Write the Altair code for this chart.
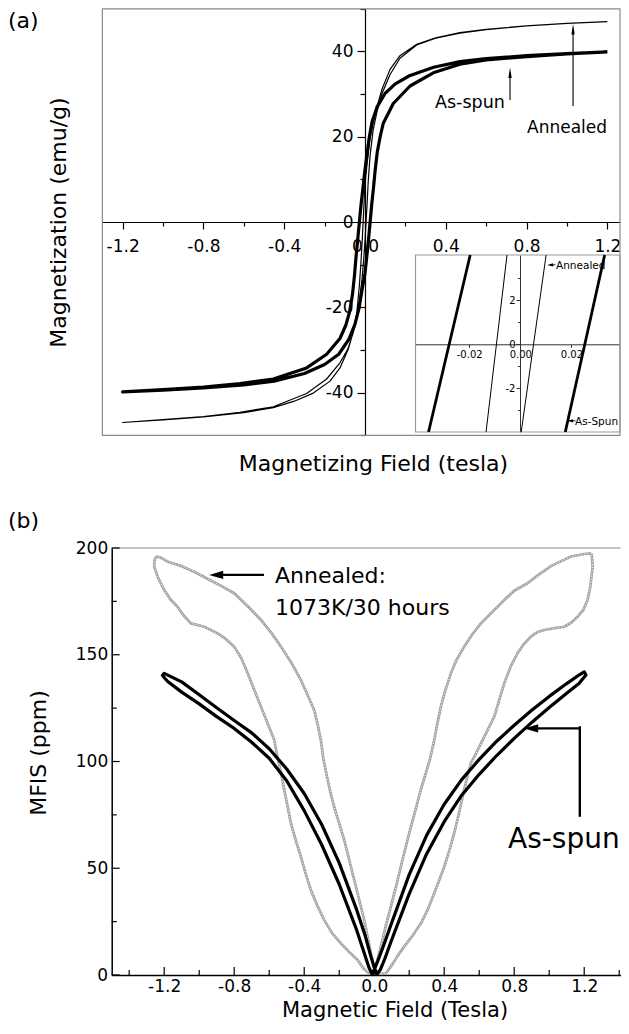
import altair as alt
import pandas as pd

FONT = "DejaVu Sans"

# ======================= (a) magnetization loops (field in tesla, M in emu/g) =======================
as_desc_H = [1.2, 1.0, 0.8, 0.6, 0.47, 0.34, 0.22, 0.15, 0.1, 0.06, 0.035, 0.02, 0.01, 0.0, -0.01,
             -0.0198, -0.0278, -0.0359, -0.045, -0.052, -0.062, -0.076, -0.095, -0.124, -0.19,
             -0.289, -0.454, -0.619, -0.8, -1.0, -1.2]
as_desc_M = [39.9, 39.5, 39.0, 38.3, 37.6, 36.3, 34.3, 32.4, 30.2, 27.0, 23.5, 19.5, 16.0, 12.3, 8.0,
             4.0, 0.0, -4.0, -8.5, -12.5, -17.0, -21.0, -24.2, -27.3, -31.0,
             -34.2, -36.8, -37.9, -38.7, -39.3, -39.8]
as_asc_H = [-1.2, -1.0, -0.8, -0.6, -0.45, -0.3, -0.2, -0.13, -0.08, -0.05, -0.03, -0.015, 0.0, 0.009,
            0.0176, 0.0253, 0.033, 0.042, 0.05, 0.061, 0.075, 0.09, 0.14, 0.223, 0.338, 0.47, 0.6,
            0.8, 1.0, 1.2]
as_asc_M = [-39.8, -39.4, -38.9, -38.2, -37.3, -35.5, -33.4, -31.0, -27.5, -24.0, -20.3, -16.0, -12.0,
            -8.0, -4.0, 0.0, 4.0, 8.0, 12.0, 16.5, 20.0, 23.1, 27.8, 31.9, 35.0, 37.0, 38.0, 38.8,
            39.4, 39.9]
an_desc_H = [1.2, 1.0, 0.8, 0.6, 0.47, 0.35, 0.256, 0.173, 0.124, 0.083, 0.05, 0.025, 0.01, 0.0,
             -0.0052, -0.0093, -0.0134, -0.02, -0.028, -0.041, -0.06, -0.085, -0.124, -0.19, -0.289,
             -0.454, -0.619, -0.8, -1.0, -1.2]
an_desc_M = [47.0, 46.6, 46.0, 45.2, 44.4, 43.2, 41.7, 39.0, 35.8, 31.0, 25.5, 19.8, 13.5, 8.8,
             4.0, 0.0, -4.0, -9.5, -15.0, -21.5, -26.2, -29.8, -33.0, -36.8, -40.2,
             -43.3, -44.6, -45.6, -46.3, -47.0]
an_asc_H = [-1.2, -1.0, -0.8, -0.6, -0.454, -0.35, -0.256, -0.173, -0.124, -0.083, -0.05, -0.03,
            -0.015, -0.006, 0.0004, 0.0052, 0.0101, 0.016, 0.025, 0.04, 0.06, 0.085, 0.124, 0.173,
            0.256, 0.35, 0.47, 0.6, 0.8, 1.0, 1.2]
an_asc_M = [-47.0, -46.4, -45.7, -44.7, -43.5, -42.0, -40.1, -37.3, -34.2, -29.8, -24.5, -19.5,
            -13.5, -8.5, -4.0, 0.0, 4.0, 9.5, 15.5, 21.5, 26.0, 30.2, 34.6, 38.4,
            41.5, 43.1, 44.3, 45.1, 46.0, 46.6, 47.0]

# inset: the four branches crossing the zoomed window (field at M = -4 and at M = +4.05)
inset_M = [-4.0, 4.05]
inset_as_left_H = [-0.0359, -0.0196]
inset_as_right_H = [0.0176, 0.0330]
inset_an_left_H = [-0.0134, -0.0052]
inset_an_right_H = [0.00035, 0.0101]

a_x_ticks = [-1.2, -1.0, -0.8, -0.6, -0.4, -0.2, 0.0, 0.2, 0.4, 0.6, 0.8, 1.0, 1.2]
a_y_ticks = [-50, -40, -30, -20, -10, 0, 10, 20, 30, 40, 50]
inset_x_ticks = [-0.02, 0.0, 0.02]
inset_y_ticks = [-3, -2, -1, 0, 1, 2, 3]

# ======================= (b) MFIS butterfly loops (field in tesla, MFIS in ppm) =======================
mf_as_H = [1.2, 1.17, 1.1, 1.0, 0.9, 0.8, 0.7, 0.6, 0.5, 0.4, 0.3, 0.2, 0.1, 0.05, 0.02, 0.0, -0.012,
           -0.03, -0.06, -0.1, -0.2, -0.3, -0.4, -0.5, -0.6, -0.7, -0.8, -0.9, -1.0, -1.1, -1.18, -1.21,
           -1.2, -1.1, -1.0, -0.9, -0.8, -0.7, -0.6, -0.5, -0.4, -0.3, -0.2, -0.1, -0.05, -0.02, 0.0, 0.015,
           0.035, 0.06, 0.1, 0.2, 0.3, 0.4, 0.5, 0.6, 0.7, 0.8, 0.9, 1.0, 1.1, 1.17, 1.21, 1.2]
mf_as_S = [142.0, 140.5, 136.5, 130.5, 124.0, 117.0, 109.5, 101.0, 91.5, 80.0, 65.5, 47.0, 24.5, 13.0, 6.5, 2.5, 0.3,
           3.5, 11.0, 21.0, 42.5, 61.0, 77.0, 91.0, 101.5, 109.0, 115.5, 121.0, 127.0, 132.5, 137.5, 140.3,
           141.3, 137.3, 131.3, 125.2, 119.2, 113.4, 106.0, 96.5, 85.0, 70.5, 52.5, 30.5, 18.0, 9.0, 3.5, 0.3,
           2.5, 7.5, 16.5, 38.0, 56.8, 71.8, 84.2, 94.0, 102.8, 110.8, 118.3, 125.3, 132.0, 136.5, 140.5, 142.0]

mf_an_H = [1.24, 1.2, 1.124, 1.06, 1.01, 0.94, 0.876, 0.8, 0.743, 0.68, 0.61, 0.56, 0.514, 0.47, 0.438,
           0.405, 0.381, 0.36, 0.343, 0.32, 0.295, 0.267, 0.24, 0.21, 0.18, 0.152, 0.125, 0.095, 0.065,
           0.038, 0.015, 0.0, -0.015, -0.035,
           -0.06, -0.095, -0.14, -0.19, -0.24, -0.286, -0.325, -0.362, -0.39, -0.419, -0.448, -0.476,
           -0.495, -0.514, -0.533, -0.552, -0.571, -0.61, -0.647, -0.685, -0.723, -0.76, -0.8, -0.85,
           -0.895, -0.971, -1.047, -1.09, -1.124, -1.165, -1.2, -1.235, -1.257, -1.255, -1.245,
           -1.22, -1.18, -1.1, -1.029, -0.95, -0.87, -0.8, -0.72, -0.647, -0.59, -0.533, -0.475, -0.419,
           -0.38, -0.343, -0.322, -0.305, -0.29, -0.27, -0.25, -0.229, -0.2, -0.171, -0.143, -0.114,
           -0.085, -0.057, -0.038, -0.019, 0.0, 0.02, 0.045,
           0.067, 0.095, 0.13, 0.171, 0.22, 0.267, 0.305, 0.343, 0.372, 0.4, 0.43, 0.457, 0.485, 0.514,
           0.533, 0.552, 0.58, 0.61, 0.65, 0.686, 0.715, 0.743, 0.78, 0.819, 0.855, 0.895, 0.93, 0.971,
           1.03, 1.086, 1.125, 1.162, 1.195, 1.219, 1.235, 1.248, 1.245, 1.24]
mf_an_S = [197.5, 197.2, 196.0, 193.5, 191.5, 187.5, 183.5, 180.0, 175.6, 170.5, 164.7, 159.5, 153.8, 147.5, 141.3,
           133.0, 125.7, 117.5, 110.0, 101.5, 94.5, 87.0, 78.5, 69.5, 60.0, 50.7, 41.5, 32.0, 22.5,
           13.3, 6.0, 2.5, 0.8, 1.0,
           3.0, 7.0, 10.5, 14.8, 19.5, 25.8, 32.5, 39.8, 47.0, 55.4, 63.0, 71.0,
           79.0, 86.7, 95.0, 101.5, 110.1, 118.0, 125.7, 133.5, 141.3, 148.5, 153.8, 157.5,
           160.0, 163.1, 164.7, 168.5, 172.5, 176.0, 180.3, 186.0, 191.2, 194.5, 196.0,
           195.5, 193.6, 191.5, 188.9, 185.5, 182.0, 178.8, 172.5, 166.3, 160.5, 153.8, 146.5, 138.2,
           131.0, 124.1, 117.0, 110.1, 101.0, 93.0, 85.5, 78.8, 71.0, 63.2, 54.0, 44.5,
           35.0, 25.8, 18.0, 10.2, 3.5, 1.0, 0.5,
           0.8, 3.9, 8.5, 13.3, 18.5, 24.2, 30.5, 38.3, 44.5, 50.7, 58.5, 66.4, 76.0, 86.7,
           93.0, 99.2, 103.5, 108.5, 115.0, 121.0, 129.0, 136.6, 144.5, 150.7, 155.0, 158.5, 160.5, 161.6,
           162.5, 163.1, 165.0, 167.8, 171.0, 175.6, 182.0, 191.2, 195.5, 197.5]

b_x_major = [-1.2, -0.8, -0.4, 0.0, 0.4, 0.8, 1.2]
b_x_minor = [-1.4, -1.0, -0.6, -0.2, 0.2, 0.6, 1.0, 1.4]
b_y_major = [0, 50, 100, 150, 200]
b_y_minor = [25, 75, 125, 175]

texts_a = ["(a)", "Magnetization (emu/g)", "Magnetizing Field (tesla)", "As-spun", "Annealed",
           "Annealed", "As-Spun"]
texts_b = ["(b)", "MFIS (ppm)", "Magnetic Field (Tesla)", "Annealed:", "1073K/30 hours", "As-spun"]

# ----------------------------------------------------------------------
FIG_W, FIG_H = 613, 1014          # one drawing area; every panel is placed through scale ranges


def path_df(h, v):
    return pd.DataFrame({"h": h, "v": v, "i": list(range(len(h)))})


def text_mark(t, x, y, size, align="left", baseline="alphabetic", angle=0):
    return alt.Chart(pd.DataFrame({"t": [t]})).mark_text(
        align=align, baseline=baseline, fontSize=size, font=FONT, color="black", angle=angle
    ).encode(x=alt.value(x), y=alt.value(y), text="t:N")


UP = "M0,-1L0.32,1L-0.32,1Z"
LEFT = "M-1,0L1,-0.6L1,0.6Z"
LEFT_S = "M-1,0L1,-0.55L1,0.55Z"

# ======================= panel (a) =======================
A_X0, A_X1, A_Y0, A_Y1 = 94.4, 612.0, 427.3, 0.8      # pixel extent of the (a) plot box
A_XAX, A_YAX = 214.0, 357.0                            # where the zero lines cross
xa = alt.Scale(domain=[-1.3, 1.2624], range=[A_X0, A_X1], nice=False, zero=False)
ya = alt.Scale(domain=[-50, 50], range=[A_Y0, A_Y1], nice=False, zero=False)

x_axis_a = alt.Axis(
    orient="bottom", offset=A_XAX - FIG_H, values=a_x_ticks, title=None, grid=False,
    labelExpr="abs(round(datum.value*10)) % 4 == 0 ? (datum.value < -0.001 ? '-' : '') + format(abs(datum.value), '.1f') : ''",
    tickSize={"condition": {"test": "abs(round(datum.value*10)) % 4 == 0", "value": 7}, "value": 4},
    labelFontSize=17, labelPadding=9, labelFlush=False, labelOverlap=False,
    domainColor="black", tickColor="black", domainWidth=1.2, tickWidth=1.2,
)
y_axis_a = alt.Axis(
    orient="left", offset=-A_YAX, values=a_y_ticks, title=None, grid=False,
    labelExpr="abs(datum.value) % 20 == 0 && abs(datum.value) < 50 ? (datum.value < 0 ? '-' : '') + abs(datum.value) : ''",
    tickSize={"condition": {"test": "abs(datum.value) % 20 == 0", "value": 8}, "value": 5},
    labelFontSize=17, labelPadding=4, labelFlush=False, labelOverlap=False,
    domainColor="black", tickColor="black", domainWidth=1.2, tickWidth=1.2,
)


def XA(f):
    return alt.X(f, scale=xa, axis=x_axis_a)


def YA(f):
    return alt.Y(f, scale=ya, axis=y_axis_a)


frame_a = alt.Chart(pd.DataFrame({"x": [-1.3], "x2": [1.2624], "y": [-50], "y2": [50]})).mark_rect(
    fillOpacity=0, stroke="#8a8a8a", strokeWidth=1.2
).encode(x=XA("x:Q"), x2="x2:Q", y=YA("y:Q"), y2="y2:Q")
curve_a_as = alt.Chart(path_df(as_desc_H + as_asc_H, as_desc_M + as_asc_M)).mark_line(
    color="black", strokeWidth=3.2, strokeJoin="round"
).encode(x=XA("h:Q"), y=YA("v:Q"), order="i:Q")
curve_a_an = alt.Chart(path_df(an_desc_H + an_asc_H, an_desc_M + an_asc_M)).mark_line(
    color="black", strokeWidth=1.2, strokeJoin="round"
).encode(x=XA("h:Q"), y=YA("v:Q"), order="i:Q")
arr_a_lines = alt.Chart(pd.DataFrame({"x": [0.718, 1.03], "y": [28.6, 27.2], "y2": [35.0, 45.2]})).mark_rule(
    color="black", strokeWidth=1.1
).encode(x=XA("x:Q"), y=YA("y:Q"), y2="y2:Q")
arr_a_heads = alt.Chart(pd.DataFrame({"x": [0.718, 1.03], "y": [35.0, 45.2]})).mark_point(
    shape=UP, filled=True, color="black", size=110, opacity=1
).encode(x=XA("x:Q"), y=YA("y:Q"))
group_a = alt.layer(frame_a, curve_a_an, curve_a_as, arr_a_lines, arr_a_heads)

# inset of (a)
I_X0, I_X1, I_Y0, I_Y1 = 407.5, 612.0, 424.0, 247.0
I_XAX, I_YAX = 336.3, 512.0
xi = alt.Scale(domain=[-0.041, 0.039], range=[I_X0, I_X1], nice=False, zero=False)
yi = alt.Scale(domain=[-4.0, 4.05], range=[I_Y0, I_Y1], nice=False, zero=False)
x_axis_i = alt.Axis(
    orient="bottom", offset=I_XAX - FIG_H, values=inset_x_ticks, title=None, grid=False,
    labelExpr="(datum.value < -0.0001 ? '-' : '') + format(abs(datum.value), '.2f')",
    tickSize=3, labelFontSize=10, labelPadding=2, labelFlush=False, labelOverlap=False,
    domainColor="#333333", tickColor="#333333", domainWidth=1, tickWidth=1,
)
y_axis_i = alt.Axis(
    orient="left", offset=-I_YAX, values=inset_y_ticks, title=None, grid=False,
    labelExpr="abs(datum.value) % 2 == 0 ? (datum.value < 0 ? '-' : '') + abs(datum.value) : ''",
    tickSize={"condition": {"test": "abs(datum.value) % 2 == 0", "value": 4}, "value": 2.5},
    labelFontSize=10, labelPadding=1, labelFlush=False, labelOverlap=False,
    domainColor="#333333", tickColor="#333333", domainWidth=1, tickWidth=1,
)


def XI(f):
    return alt.X(f, scale=xi, axis=x_axis_i)


def YI(f):
    return alt.Y(f, scale=yi, axis=y_axis_i)


frame_i = alt.Chart(pd.DataFrame({"x": [-0.041], "x2": [0.039], "y": [-4.0], "y2": [4.05]})).mark_rect(
    fillOpacity=0, stroke="#9a9a9a", strokeWidth=1.2
).encode(x=XI("x:Q"), x2="x2:Q", y=YI("y:Q"), y2="y2:Q")
ins_as = pd.DataFrame({"h": inset_as_left_H + inset_as_right_H, "v": inset_M + inset_M,
                       "seg": ["l", "l", "r", "r"]})
ins_an = pd.DataFrame({"h": inset_an_left_H + inset_an_right_H, "v": inset_M + inset_M,
                       "seg": ["l", "l", "r", "r"]})
ins_as_line = alt.Chart(ins_as).mark_line(color="black", strokeWidth=2.8).encode(
    x=XI("h:Q"), y=YI("v:Q"), detail="seg:N")
ins_an_line = alt.Chart(ins_an).mark_line(color="black", strokeWidth=1.0).encode(
    x=XI("h:Q"), y=YI("v:Q"), detail="seg:N")
ins_arr_lines = alt.Chart(pd.DataFrame({"x": [0.0137, 0.0216], "x2": [0.0117, 0.0195], "y": [3.6, -3.49]})).mark_rule(
    color="black", strokeWidth=0.9
).encode(x=XI("x:Q"), x2="x2:Q", y=YI("y:Q"))
ins_arr_heads = alt.Chart(pd.DataFrame({"x": [0.0117, 0.0195], "y": [3.6, -3.49]})).mark_point(
    shape=LEFT_S, filled=True, color="black", size=36, opacity=1
).encode(x=XI("x:Q"), y=YI("y:Q"))
group_i = alt.layer(frame_i, ins_an_line, ins_as_line, ins_arr_lines, ins_arr_heads)

# ======================= panel (b) =======================
B_X0, B_X1, B_Y0, B_Y1 = 103.7, 612.5, 967.0, 540.0
xb = alt.Scale(domain=[-1.5, 1.4074], range=[B_X0, B_X1], nice=False, zero=False)
yb = alt.Scale(domain=[0, 200], range=[B_Y0, B_Y1], nice=False, zero=False)
x_axis_b = alt.Axis(
    orient="bottom", offset=B_Y0 - FIG_H, values=b_x_major, title=None, grid=False, ticks=False,
    tickSize=0,
    labelExpr="(datum.value < -0.001 ? '-' : '') + format(abs(datum.value), '.1f')",
    labelFontSize=17, labelPadding=3, labelFlush=False, labelOverlap=False,
    domainColor="black", domainWidth=1.5,
)
y_axis_b = alt.Axis(
    orient="left", offset=-B_X0, values=b_y_major, title=None, grid=False, ticks=False, tickSize=0,
    labelFontSize=17, labelPadding=4, labelFlush=False, labelOverlap=False,
    domainColor="black", domainWidth=1.5,
)


def XB(f):
    return alt.X(f, scale=xb, axis=x_axis_b)


def YB(f):
    return alt.Y(f, scale=yb, axis=y_axis_b)


top_b = alt.Chart(pd.DataFrame({"x": [-1.5], "x2": [1.4074], "y": [200]})).mark_rule(
    color="#8a8a8a", strokeWidth=1.2
).encode(x=XB("x:Q"), x2="x2:Q", y=YB("y:Q"))


def y_ticks(vals, length):
    return alt.Chart(pd.DataFrame({"v": vals})).mark_rule(color="black", strokeWidth=1.2).encode(
        y=YB("v:Q"), x=alt.value(B_X0), x2=alt.value(B_X0 + length))


def x_ticks(vals, length):
    return alt.Chart(pd.DataFrame({"v": vals})).mark_rule(color="black", strokeWidth=1.2).encode(
        x=XB("v:Q"), y=alt.value(B_Y0), y2=alt.value(B_Y0 - length))


an_b_df = path_df(mf_an_H, mf_an_S)
an_b_outer = alt.Chart(an_b_df).mark_line(color="#a2a2a2", strokeWidth=2.7, strokeJoin="round").encode(
    x=XB("h:Q"), y=YB("v:Q"), order="i:Q")
an_b_inner = alt.Chart(an_b_df).mark_line(color="white", strokeWidth=0.9, strokeDash=[1.2, 1.8]).encode(
    x=XB("h:Q"), y=YB("v:Q"), order="i:Q")
as_b = alt.Chart(path_df(mf_as_H, mf_as_S)).mark_line(
    color="black", strokeWidth=3.2, strokeJoin="round", strokeCap="round"
).encode(x=XB("h:Q"), y=YB("v:Q"), order="i:Q")
arr_b_h = alt.Chart(pd.DataFrame({"x": [-0.63, 1.175], "x2": [-0.903, 0.897], "y": [187.4, 115.5]})).mark_rule(
    color="black", strokeWidth=2.4
).encode(x=XB("x:Q"), x2="x2:Q", y=YB("y:Q"))
arr_b_v = alt.Chart(pd.DataFrame({"x": [1.175], "y": [74.1], "y2": [116.5]})).mark_rule(
    color="black", strokeWidth=2.4
).encode(x=XB("x:Q"), y=YB("y:Q"), y2="y2:Q")
arr_b_heads = alt.Chart(pd.DataFrame({"x": [-0.903, 0.897], "y": [187.4, 115.5]})).mark_point(
    shape=LEFT, filled=True, color="black", size=196, opacity=1
).encode(x=XB("x:Q"), y=YB("y:Q"))
group_b = alt.layer(
    top_b, y_ticks(b_y_major, 8), y_ticks(b_y_minor, 5), x_ticks(b_x_major, 8), x_ticks(b_x_minor, 5),
    an_b_outer, an_b_inner, as_b, arr_b_h, arr_b_v, arr_b_heads
)

# ======================= all text =======================
labels = alt.layer(
    text_mark(texts_a[0], 0, 2.8, 22, baseline="top"),
    text_mark(texts_a[1], 58, 214.5, 22, align="center", angle=270),
    text_mark(texts_a[2], 365.5, 462.7, 22, align="center"),
    text_mark(texts_a[3], 427, 99.5, 17.5),
    text_mark(texts_a[4], 519, 125, 17),
    text_mark(texts_a[5], 548, 261, 10.5),
    text_mark(texts_a[6], 567, 417, 10.5),
    text_mark(texts_b[0], 0, 502.5, 22, baseline="top"),
    text_mark(texts_b[1], 38, 745, 22, align="center", angle=270),
    text_mark(texts_b[2], 387, 1008.5, 21, align="center"),
    text_mark(texts_b[3], 267, 575.3, 22),
    text_mark(texts_b[4], 267, 607, 22),
    text_mark(texts_b[5], 500, 840.3, 28),
)

chart = alt.layer(group_a, group_i, group_b, labels).resolve_scale(
    x="independent", y="independent"
).resolve_axis(x="independent", y="independent").properties(
    width=FIG_W, height=FIG_H, autosize=alt.AutoSizeParams(type="none"),
    padding={"left": 0, "top": 0, "right": 0, "bottom": 0},
).configure(font=FONT).configure_view(strokeWidth=0).configure_axis(
    labelFont=FONT, labelColor="black"
)

chart.save("out.html", embed_options={"renderer": "svg", "actions": False})
